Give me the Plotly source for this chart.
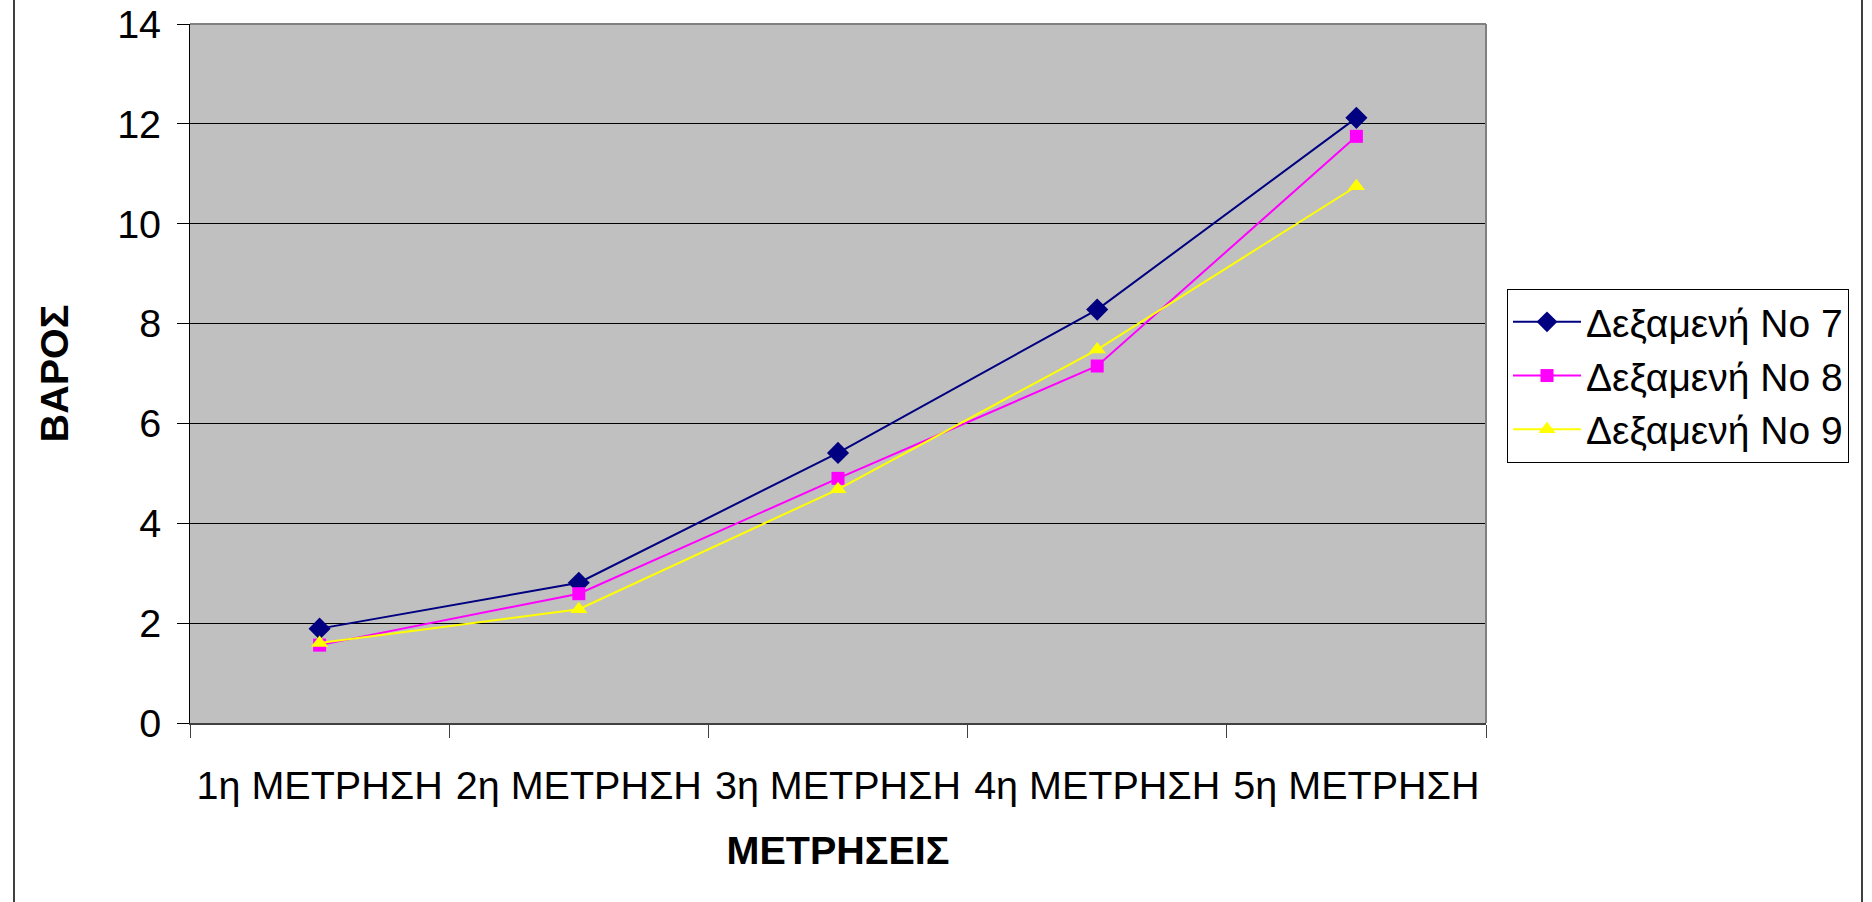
import plotly.graph_objects as go

# Measurement rounds (x categories)
rounds = ["1η ΜΕΤΡΗΣΗ", "2η ΜΕΤΡΗΣΗ", "3η ΜΕΤΡΗΣΗ", "4η ΜΕΤΡΗΣΗ", "5η ΜΕΤΡΗΣΗ"]

# Weight per tank
tank7 = [1.89, 2.81, 5.41, 8.28, 12.12]
tank8 = [1.56, 2.59, 4.90, 7.15, 11.75]
tank9 = [1.60, 2.28, 4.68, 7.48, 10.75]

series_names = ["Δεξαμενή Νο 7", "Δεξαμενή Νο 8", "Δεξαμενή Νο 9"]
y_ticks = [0, 2, 4, 6, 8, 10, 12, 14]

FONT = "Liberation Sans, Arial, sans-serif"
FS = 39.5

W, H = 1872, 902
L, R, T, B = 190, 386, 24, 179

fig = go.Figure()
styles = [
    (tank7, "#000080", "diamond", 17),
    (tank8, "#FF00FF", "square", 13),
    (tank9, "#FFFF00", "triangle-up", 15),
]
for name, (vals, col, sym, size) in zip(series_names, styles):
    fig.add_trace(go.Scatter(
        x=rounds, y=vals, name=name, mode="lines+markers",
        line=dict(color=col, width=2),
        marker=dict(symbol=sym, size=size, color=col, line=dict(width=0)),
    ))

pw, ph = W - L - R, H - T - B

fig.update_layout(
    width=W, height=H,
    margin=dict(l=L, r=R, t=T, b=B, pad=0, autoexpand=False),
    paper_bgcolor="white",
    plot_bgcolor="#C0C0C0",
    font=dict(family=FONT, size=FS, color="black"),
    showlegend=True,
    legend=dict(
        x=(1507 - L) / pw, y=(H - B - 289) / ph, xanchor="left", yanchor="top",
        bgcolor="white", bordercolor="black", borderwidth=1,
        font=dict(family=FONT, size=39, color="black"),
        itemwidth=68,
    ),
)

fig.update_xaxes(
    type="category",
    tickson="boundaries",
    ticks="outside", ticklen=13, tickwidth=1, tickcolor="#404040",
    showgrid=False,
    showline=True, linecolor="#404040", linewidth=2,
    ticklabelstandoff=27,
    automargin=False,
    tickfont=dict(family=FONT, size=FS),
    title=dict(text="<b>ΜΕΤΡΗΣΕΙΣ</b>", font=dict(family=FONT, size=FS), standoff=30),
    range=[-0.5, 4.5],
)
fig.update_yaxes(
    range=[0, 14], tickvals=y_ticks,
    ticks="outside", ticklen=12, tickwidth=1, tickcolor="black",
    showgrid=True, gridcolor="black", gridwidth=1,
    showline=True, linecolor="black", linewidth=1,
    zeroline=False,
    ticklabelstandoff=8,
    automargin=False,
    tickfont=dict(family=FONT, size=FS),
    title=dict(text="<b>ΒΑΡΟΣ</b>", font=dict(family=FONT, size=FS), standoff=36),
)

# Plot-area frame (top and right edges) and outer chart border
fig.add_shape(type="line", xref="paper", yref="paper", x0=0, x1=1, y0=1, y1=1,
              line=dict(color="#808080", width=2))
fig.add_shape(type="line", xref="paper", yref="paper", x0=1, x1=1, y0=0, y1=1,
              line=dict(color="#808080", width=2))
bx0 = (14 - L) / pw
bx1 = (1862 - L) / pw
fig.add_shape(type="line", xref="paper", yref="paper", x0=bx0, x1=bx0,
              y0=-B / ph, y1=(ph + T) / ph, line=dict(color="#404040", width=2))
fig.add_shape(type="line", xref="paper", yref="paper", x0=bx1, x1=bx1,
              y0=-B / ph, y1=(ph + T) / ph, line=dict(color="#404040", width=2))

fig.write_html("out.html")
